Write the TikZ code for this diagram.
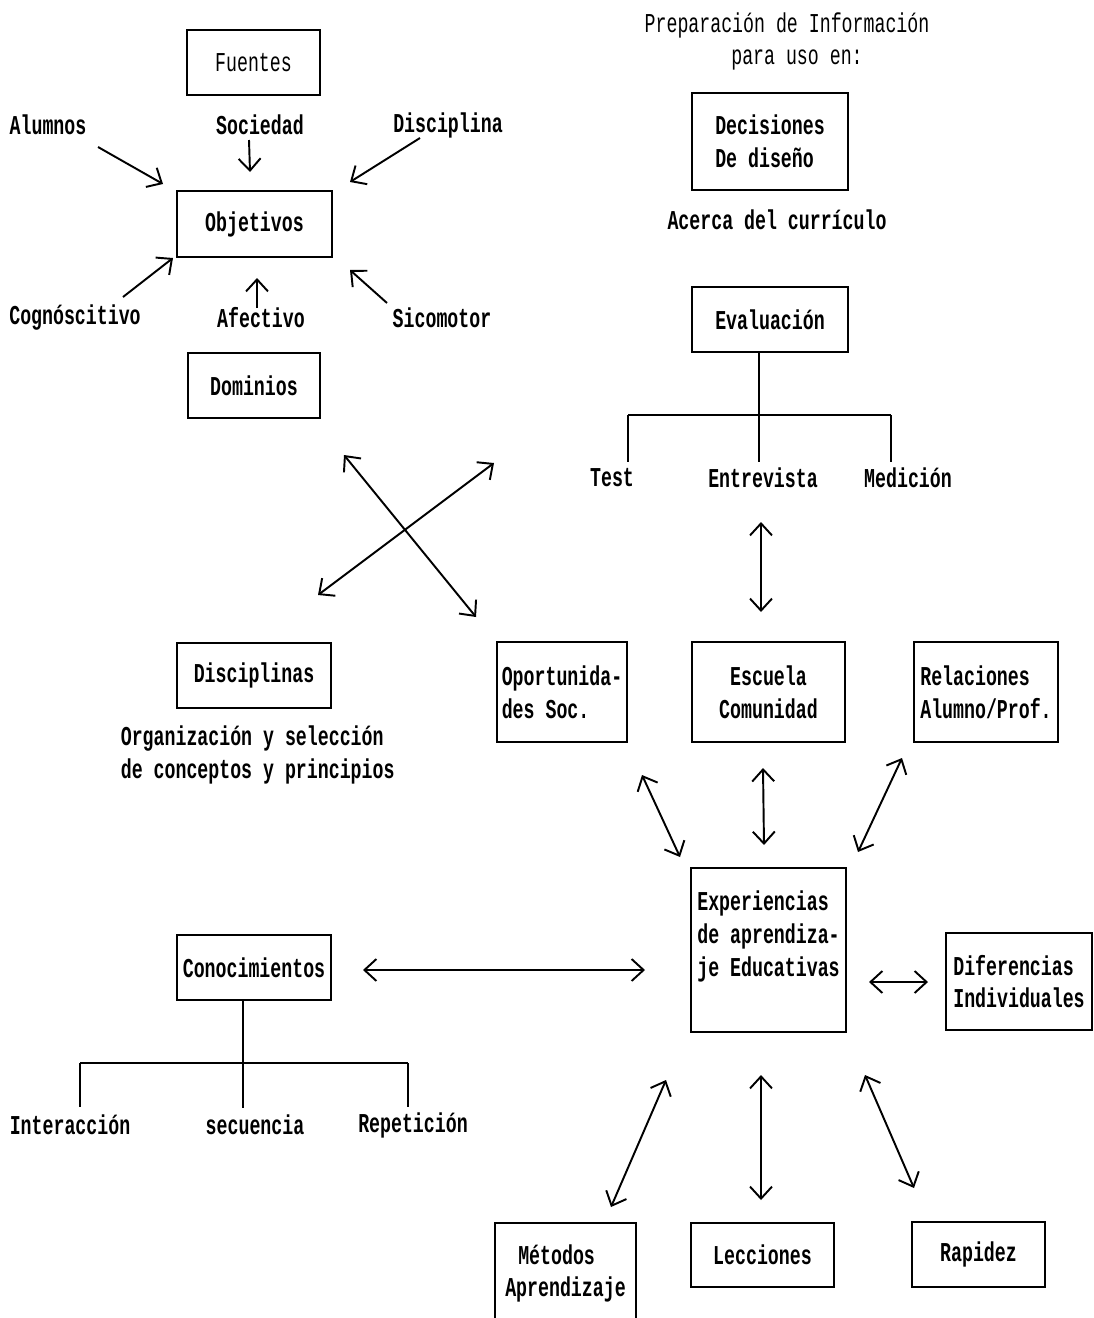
\documentclass[tikz,border=0pt]{standalone}
\usepackage{fontspec}
\newfontfamily\dotmono{Liberation Mono}[FakeStretch=0.67]
\usetikzlibrary{arrows.meta,positioning}

\begin{document}
\begin{tikzpicture}
  [x=0.02cm, y=-0.02cm, line width=1.1pt, >={Straight Barb[length=2.4mm,width=4.4mm]},
   font=\dotmono\bfseries\fontsize{15.5}{18.7}\selectfont,
   box/.style={draw, align=left, inner sep=2pt},
   light/.style={font=\dotmono\mdseries\fontsize{15.5}{18.7}\selectfont}]

\useasboundingbox (0,0) rectangle (1094,1318);
\clip (0,0) rectangle (1094,1318);

% fuentes, objetivos, dominios
\node[box,light,minimum width=2.66cm,minimum height=1.3cm] (fuentes) at (253.5,62.5) {Fuentes};
\node[box,minimum width=3.1cm,minimum height=1.32cm] (objetivos) at (254.5,224) {Objetivos};
\node[box,minimum width=2.64cm,minimum height=1.3cm] (dominios) at (254,385.5) {Dominios};

\node (alumnos) at (48,125) {Alumnos};
\node (sociedad) at (260,125) {Sociedad};
\node (disciplina) at (448,125) {Disciplina};
\node (cognos) at (75,318) {Cognóscitivo};
\node (afectivo) at (261,318) {Afectivo};
\node (sicomotor) at (442,318) {Sicomotor};

\coordinate (aluA) at (98,147);   \coordinate (aluB) at (163,184);
\coordinate (socA) at (249,140);  \coordinate (socB) at (250,172);
\coordinate (disA) at (420,138);  \coordinate (disB) at (350,182);
\coordinate (cogA) at (123,297);  \coordinate (cogB) at (173,258);
\coordinate (afeA) at (257,308);  \coordinate (afeB) at (257,278);
\coordinate (sicA) at (387,303);  \coordinate (sicB) at (350,270);

\draw[->] (aluA) -- (aluB);
\draw[->] (socA) -- (socB);
\draw[->] (disA) -- (disB);
\draw[->] (cogA) -- (cogB);
\draw[->] (afeA) -- (afeB);
\draw[->] (sicA) -- (sicB);

% decisiones de diseno
\node[light] (prep) at (787,25) {Preparación de Información};
\node[light] (uso) at (797,60) {para uso en:};
\node[box,minimum width=3.12cm,minimum height=1.94cm] (decisiones) at (770,141.5) {Decisiones\\De diseño};
\node (acerca) at (777,220) {Acerca del currículo};

% evaluacion
\node[box,minimum width=3.12cm,minimum height=1.3cm] (evaluacion) at (770,319.5) {Evaluación};
\node (test) at (612,478) {Test};
\node (entrevista) at (763,478) {Entrevista};
\node (medicion) at (908,478) {Medición};

\coordinate (evT) at (759,415);
\coordinate (evL) at (628,415);
\coordinate (evR) at (891,415);
\draw (evaluacion.south -| evT) -- (evT) -- ++(0,47);
\draw (evL) -- (evR);
\draw (evL) -- ++(0,47);
\draw (evR) -- ++(0,47);

% cruce
\coordinate (xa1) at (344,455); \coordinate (xa2) at (476,617);
\coordinate (xb1) at (494,463); \coordinate (xb2) at (318,595);
\draw[<->] (xa1) -- (xa2);
\draw[<->] (xb1) -- (xb2);

\node[box,minimum width=3.08cm,minimum height=1.3cm] (disciplinas) at (254,675.5) {Disciplinas};
\node[anchor=west,align=left] (organiz) at (114,755) {Organización y selección\\de conceptos y principios};

% fila media
\node[box,minimum width=2.6cm,minimum height=2cm] (oportun) at (562,692) {Oportunida-\\des Soc.};
\node[box,align=center,minimum width=3.06cm,minimum height=2cm] (escuela) at (768.5,692) {Escuela\\Comunidad};
\node[box,minimum width=2.88cm,minimum height=2cm] (relaciones) at (986,692) {Relaciones\\Alumno/Prof.};

\coordinate (entA) at (761,522); \coordinate (entB) at (761,612);
\draw[<->] (entA) -- (entB);

% experiencias
\node[box,minimum width=3.1cm,minimum height=3.28cm] (experiencias) at (768.5,950) {Experiencias\\de aprendiza-\\je Educativas\\~};
\node[box,minimum width=2.92cm,minimum height=1.94cm] (diferencias) at (1019,981.5) {Diferencias\\Individuales};
\node[box,minimum width=3.08cm,minimum height=1.3cm] (conocim) at (254,967.5) {Conocimientos};

\coordinate (opA) at (642,775); \coordinate (opB) at (680,857);
\coordinate (esA) at (763,768); \coordinate (esB) at (764,845);
\coordinate (reA) at (902,758); \coordinate (reB) at (858,852);
\coordinate (coA) at (363,970); \coordinate (coB) at (645,970);
\coordinate (diA) at (869,982); \coordinate (diB) at (928,982);
\draw[<->] (opA) -- (opB);
\draw[<->] (esA) -- (esB);
\draw[<->] (reA) -- (reB);
\draw[<->] (coA) -- (coB);
\draw[<->] (diA) -- (diB);

% conocimientos
\node (interacc) at (70,1125) {Interacción};
\node (secuencia) at (255,1125) {secuencia};
\node (repetic) at (413,1125) {Repetición};
\coordinate (coT) at (243,1063);
\coordinate (coL) at (80,1063);
\coordinate (coR) at (408,1063);
\draw (conocim.south -| coT) -- (coT) -- ++(0,45);
\draw (coL) -- (coR);
\draw (coL) -- ++(0,44);
\draw (coR) -- ++(0,44);

% fila inferior
\node[box,minimum width=2.82cm,minimum height=2.56cm] (metodos) at (565.5,1287) {\hspace*{0.26cm}Métodos\\Aprendizaje\\~};
\node[box,minimum width=2.86cm,minimum height=1.28cm] (lecciones) at (762.5,1255) {Lecciones};
\node[box,minimum width=2.66cm,minimum height=1.3cm] (rapidez) at (978.5,1254.5) {Rapidez};

\coordinate (meA) at (666,1080); \coordinate (meB) at (611,1207);
\coordinate (leA) at (761,1075); \coordinate (leB) at (761,1200);
\coordinate (raA) at (865,1075); \coordinate (raB) at (914,1188);
\draw[<->] (meA) -- (meB);
\draw[<->] (leA) -- (leB);
\draw[<->] (raA) -- (raB);
\end{tikzpicture}
\end{document}
